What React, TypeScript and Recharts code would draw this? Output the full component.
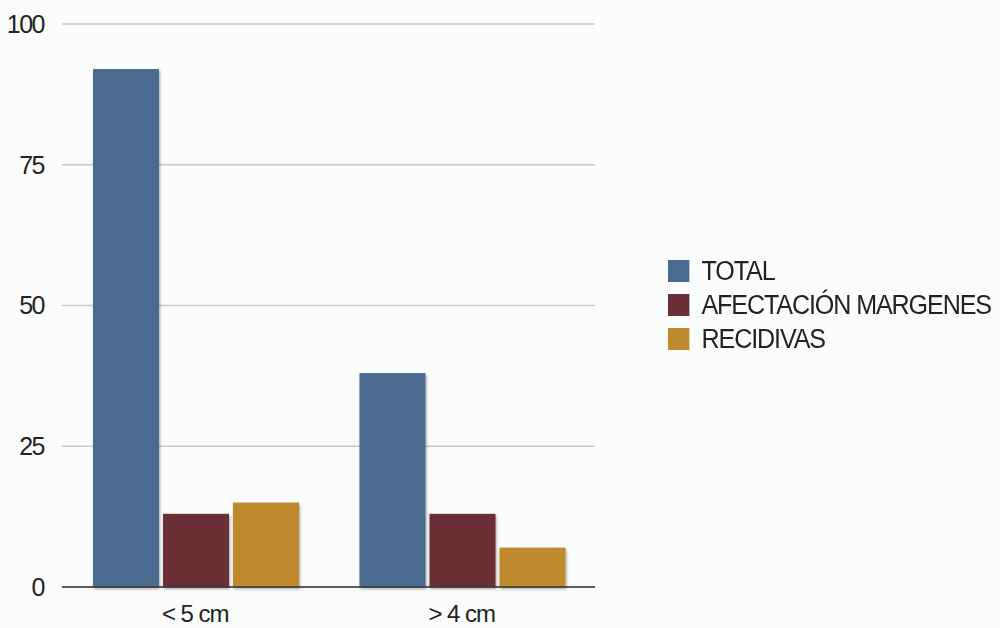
import React from 'react';
import { BarChart, Bar, XAxis, YAxis, CartesianGrid } from 'recharts';

const categories = ['< 5 cm', '> 4 cm'];
const total = [92, 38];
const afectacion = [13, 13];
const recidivas = [15, 7];
const yTicks = [0, 25, 50, 75, 100];

const series = [
  { key: 'total', name: 'TOTAL', color: '#4b6a90' },
  { key: 'afectacion', name: 'AFECTACIÓN MARGENES', color: '#6a2f36' },
  { key: 'recidivas', name: 'RECIDIVAS', color: '#bf8a2f' },
];

const data = categories.map((name, i) => ({
  name,
  total: total[i],
  afectacion: afectacion[i],
  recidivas: recidivas[i],
}));

const FONT = '"Liberation Sans", Arial, sans-serif';

const ShadowBar = (props: any) => {
  const { x, y, width, height, fill } = props;
  if (!height || height <= 0) return null;
  return <rect x={x} y={y} width={width} height={height} fill={fill} filter="url(#barShadow)" />;
};

// legend sits to the right of the plot, outside recharts layout
const LegendBox = () => (
  <div
    style={{
      position: 'absolute',
      left: 668,
      top: 254,
      fontFamily: FONT,
      fontSize: 27,
      letterSpacing: -1.2,
      color: '#222',
      transform: 'scaleX(0.93)',
      transformOrigin: 'left center',
    }}
  >
    {series.map((s) => (
      <div key={s.key} style={{ display: 'flex', alignItems: 'center', height: 34, whiteSpace: 'nowrap' }}>
        <span style={{ width: 23, height: 22, background: s.color, marginRight: 13, display: 'inline-block' }} />
        <span>{s.name}</span>
      </div>
    ))}
  </div>
);

export default function App() {
  return (
    <div style={{ position: 'absolute', left: 0, top: 0, width: 1000, height: 628, background: '#fbfdfd' }}>
      <BarChart
        width={1000}
        height={628}
        data={data}
        margin={{ top: 24, right: 405, left: 12, bottom: 6 }}
        barCategoryGap={31}
        barGap={4}
      >
        <defs>
          <filter id="barShadow" x="-10%" y="-10%" width="130%" height="130%">
            <feDropShadow dx="1" dy="2" stdDeviation="1.5" floodColor="#000" floodOpacity="0.35" />
          </filter>
        </defs>
        <CartesianGrid horizontal vertical={false} stroke="#c8c8c8" strokeWidth={1.5} />
        <XAxis
          dataKey="name"
          axisLine={{ stroke: '#333', strokeWidth: 1.5 }}
          tickLine={false}
          tickSize={0}
          tickMargin={18}
          height={35}
          tick={{ fontFamily: FONT, fontSize: 24, fill: '#222', letterSpacing: -1 }}
        />
        <YAxis
          domain={[0, 100]}
          ticks={yTicks}
          axisLine={false}
          tickLine={false}
          tickSize={0}
          tickMargin={18}
          width={50}
          tick={{ fontFamily: FONT, fontSize: 25, fill: '#222', letterSpacing: -1.5 }}
        />
        {series.map((s) => (
          <Bar key={s.key} dataKey={s.key} name={s.name} fill={s.color} shape={<ShadowBar />} isAnimationActive={false} />
        ))}
      </BarChart>
      <LegendBox />
    </div>
  );
}
